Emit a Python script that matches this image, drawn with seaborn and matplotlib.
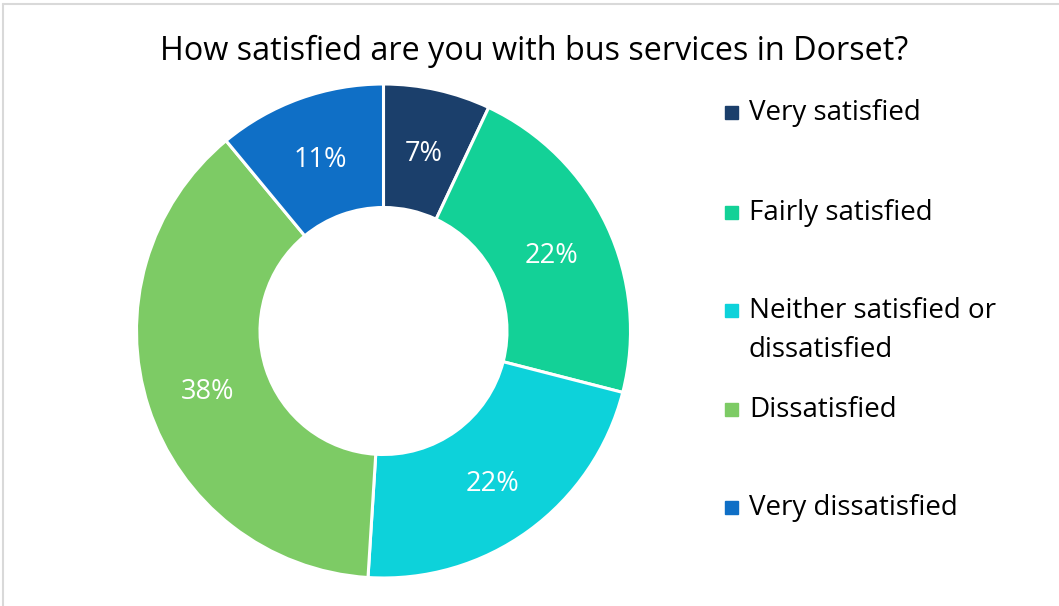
import matplotlib
matplotlib.use("Agg")
import matplotlib.pyplot as plt
from matplotlib.lines import Line2D
from matplotlib.patches import Rectangle
import seaborn as sns

# Survey responses
categories = ["Very satisfied", "Fairly satisfied",
              "Neither satisfied or\ndissatisfied", "Dissatisfied",
              "Very dissatisfied"]
shares = [7, 22, 22, 38, 11]
colors = ["#1B3F6B", "#13D197", "#0DD2DA", "#7DCB65", "#0F6FC6"]
title = "How satisfied are you with bus services in Dorset?"

sns.set_theme(style="white")
plt.rcParams["font.family"] = ["Open Sans", "DejaVu Sans"]
palette = sns.color_palette(colors)

W, H = 1059, 606
fig = plt.figure(figsize=(W / 100, H / 100), dpi=100)

# Doughnut axes: centre (383.5, 331) px, outer radius 247 px
cx, cy, r = 383.5, 331, 247
ax = fig.add_axes([(cx - r) / W, (H - cy - r) / H, 2 * r / W, 2 * r / H])
wedges, _, autotexts = ax.pie(
    shares, colors=palette, startangle=90, counterclock=False,
    radius=1, autopct="%d%%", pctdistance=0.75,
    wedgeprops=dict(width=0.5, edgecolor="white", linewidth=2.2),
    textprops=dict(color="white", fontsize=19.5),
)
for t in autotexts:
    t.set_va("center_baseline")
ax.set_xlim(-1, 1)
ax.set_ylim(-1, 1)
ax.set_aspect("equal")
ax.axis("off")

fig.text(534 / W, 1 - 60 / H, title, ha="center", va="baseline",
         fontsize=23.3, color="black")

# Legend drawn as squares plus labels
baselines = [120, 220, 318, 417, 515]
for lab, col, base in zip(categories, palette, baselines):
    fig.patches.append(Rectangle((725 / W, 1 - (base - 1) / H), 13 / W, 13 / H,
                                 transform=fig.transFigure, color=col))
    lines = lab.split("\n")
    for i, line in enumerate(lines):
        fig.text(749 / W, 1 - (base + 39 * i) / H, line, ha="left",
                 va="baseline", fontsize=20, color="black")

# Chart frame (top and left edges visible)
frame = dict(color="#D9D9D9", linewidth=1.5, transform=fig.transFigure)
fig.lines.append(Line2D([3 / W, 1], [1 - 4 / H, 1 - 4 / H], **frame))
fig.lines.append(Line2D([3 / W, 3 / W], [0, 1 - 4 / H], **frame))

fig.savefig("out.png", dpi=100, facecolor="white")
